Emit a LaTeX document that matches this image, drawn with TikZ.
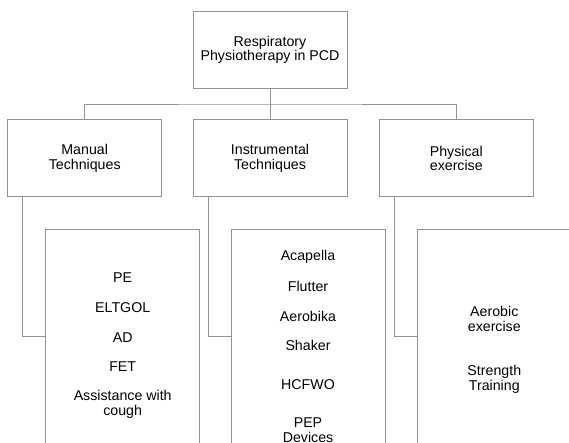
\documentclass[tikz,border=0pt]{standalone}
\usepackage{fontspec}
\setmainfont{Liberation Sans}
\usetikzlibrary{positioning}
\tikzset{box/.style={draw=gray!85,line width=0.9pt,outer sep=0pt,minimum width=154pt,minimum height=77pt,align=center,inner sep=2pt}}
\tikzset{listbox/.style={box,minimum height=215pt}}
\tikzset{item/.style={align=center,inner sep=1pt}}
\tikzset{link/.style={draw=gray!85,line width=0.9pt}}

\begin{document}
\begin{tikzpicture}[x=1pt,y=1pt,font=\fontsize{14.2}{14.7}\selectfont,on grid]
        \useasboundingbox (0,0) rectangle (569,-443);
        \clip (0,0) rectangle (569,-443);
        \node[box](root) at (270,-49.7){Respiratory\\Physiotherapy in PCD};
        \node[box](instr)[below=108.6pt of root]{Instrumental\\Techniques};
        \node[box](manual)[left=185.3pt of instr]{Manual\\Techniques};
        \node[box](phys)[right=186.3pt of instr]{Physical\\exercise};
        \coordinate[below=15.8pt of root.south](bus);
        % lists
        \node[listbox](mlist)[below right=178.4pt and 38pt of manual]{};
        \node[listbox](ilist)[below right=178.4pt and 38pt of instr]{};
        \node[listbox](plist)[below right=178.4pt and 38pt of phys]{};
        \node[item](pe)[below=42.3pt of mlist.north]{PE};
        \node[item](eltgol)[below=29.8pt of pe]{ELTGOL};
        \node[item](ad)[below=29.8pt of eltgol]{AD};
        \node[item](fet)[below=29.6pt of ad]{FET};
        \node[item](cough)[below=37.5pt of fet]{Assistance with\\cough};
        \node[item](acapella)[below=19.6pt of ilist.north]{Acapella};
        \node[item](flutter)[below=29.6pt of acapella]{Flutter};
        \node[item](aerobika)[below=29.8pt of flutter]{Aerobika};
        \node[item](shaker)[below=29.4pt of aerobika]{Shaker};
        \node[item](hcfwo)[below=38.8pt of shaker]{HCFWO};
        \node[item](pep)[below=45.8pt of hcfwo]{PEP\\Devices};
        \node[item](aerobic)[below=76.3pt of plist.north]{Aerobic\\exercise};
        \node[item](strength)[below=59.8pt of aerobic]{Strength\\Training};
        % connectors
        \draw[link] (root) -- (instr);
        \draw[link] (manual.north) |- (bus) -| (phys.north);
        \draw[link] ([xshift=15pt]manual.south west) |- (mlist.west);
        \draw[link] ([xshift=15pt]instr.south west) |- (ilist.west);
        \draw[link] ([xshift=15pt]phys.south west) |- (plist.west);
      \end{tikzpicture}
\end{document}
